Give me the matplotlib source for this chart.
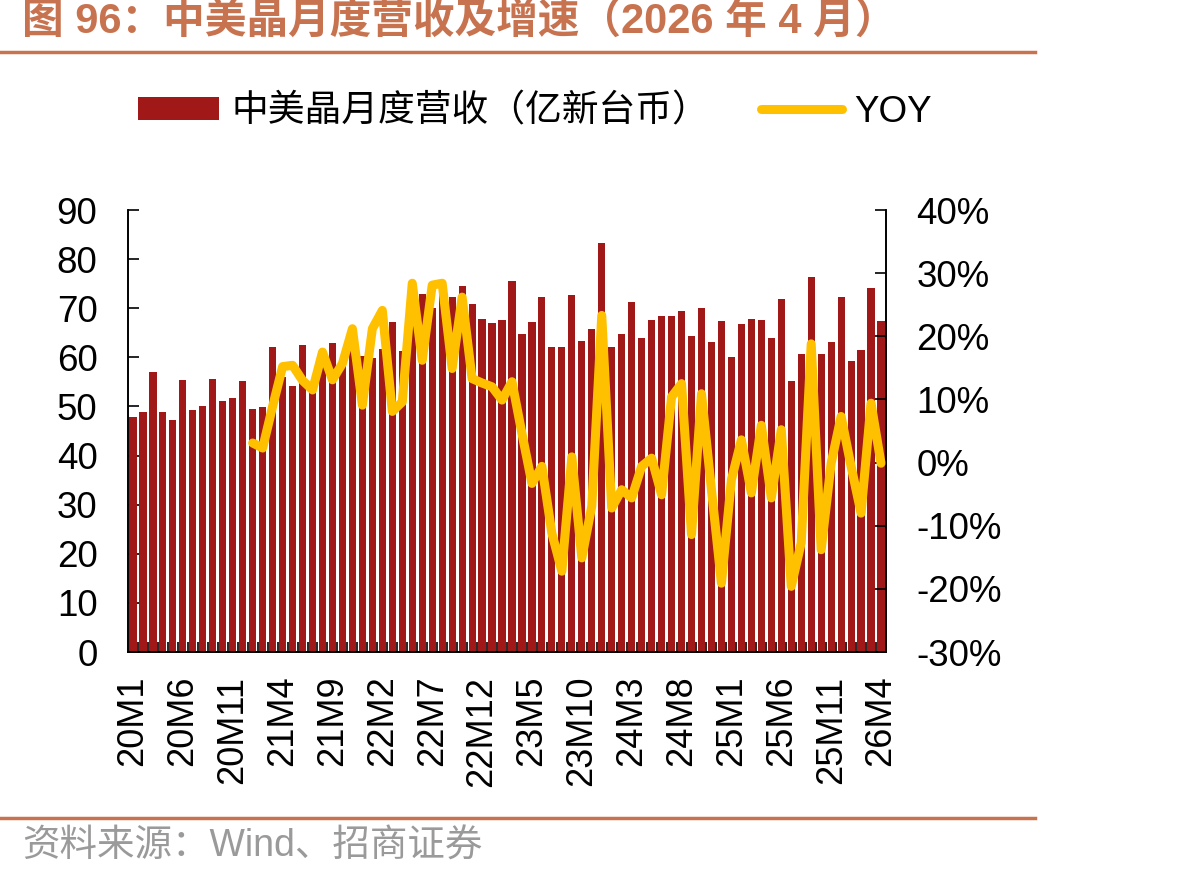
import numpy as np
import matplotlib
matplotlib.use("Agg")
import matplotlib.pyplot as plt
from matplotlib.lines import Line2D
from matplotlib.patches import Patch

plt.rcParams['font.family'] = ['Liberation Sans', 'Noto Sans CJK SC', 'DejaVu Sans']

# monthly revenue, 20M1 .. 26M4 (亿新台币)
revenue = [47.9, 48.8, 57.0, 48.8, 47.2, 55.4, 49.3, 50.1, 55.6, 51.2, 51.8, 55.2,
           49.5, 49.9, 62.1, 56.0, 54.2, 62.5, 55.0, 58.9, 62.9, 59.2, 62.8, 60.2,
           59.9, 61.7, 67.2, 61.3, 69.6, 72.9, 70.1, 75.6, 72.3, 74.5, 70.8, 67.9,
           67.0, 67.7, 75.5, 64.8, 67.2, 72.3, 62.1, 62.1, 72.7, 63.3, 65.8, 83.2,
           62.1, 64.8, 71.2, 64.0, 67.7, 68.4, 68.4, 69.4, 64.3, 70.0, 63.1, 67.4,
           60.1, 66.8, 67.9, 67.7, 64.0, 71.9, 55.2, 60.6, 76.3, 60.6, 63.1, 72.3,
           59.3, 61.5, 74.1, 67.4]

# YOY (%), starts 21M1
yoy = [3.1, 2.3, 8.9, 15.2, 15.4, 13.0, 11.5, 17.5, 13.1, 15.7, 21.2, 9.1,
       21.2, 24.1, 8.1, 9.6, 28.4, 16.2, 28.1, 28.4, 14.9, 26.2, 13.3, 12.6,
       12.0, 9.9, 12.8, 4.6, -3.3, -0.6, -11.2, -17.2, 0.9, -15.1, -6.9, 23.3,
       -7.2, -4.3, -5.6, -0.6, 0.7, -5.1, 10.4, 12.5, -11.4, 10.9, -4.3, -19.1,
       -2.7, 3.6, -4.8, 5.9, -5.6, 5.2, -19.6, -12.7, 18.8, -13.8, -0.1, 7.3,
       -0.6, -8.0, 9.4, -0.1]

tick_labels = ['20M1', '20M6', '20M11', '21M4', '21M9', '22M2', '22M7', '22M12',
               '23M5', '23M10', '24M3', '24M8', '25M1', '25M6', '25M11', '26M4']

title = '图 96：中美晶月度营收及增速（2026 年 4 月）'
bar_name = '中美晶月度营收（亿新台币）'
line_name = 'YOY'
source = '资料来源：Wind、招商证券'

bar_color = '#A01818'
line_color = '#FFC000'
accent = '#C8734F'

n = len(revenue)
x = np.arange(n)
x_yoy = np.arange(n - len(yoy), n)

fig = plt.figure(figsize=(11.8, 8.8), dpi=100)
ax = fig.add_axes([128 / 1180, 1 - 652 / 880, (886 - 128) / 1180, (652 - 210) / 880])
ax2 = ax.twinx()

ax.bar(x, revenue, width=0.72, color=bar_color, zorder=2)
ax2.plot(x_yoy, yoy, color=line_color, lw=6.5, solid_joinstyle='round',
         solid_capstyle='round', zorder=3)

ax.set_xlim(-0.5, n - 0.5)
ax.set_ylim(0, 90)
ax.set_yticks(np.arange(0, 91, 10))
ax2.set_ylim(-30, 40)
ax2.set_yticks(np.arange(-30, 41, 10))
ax2.set_yticklabels([f'{v}%' for v in range(-30, 41, 10)])

ax.set_xticks(np.arange(0, n, 5))
ax.set_xticklabels(tick_labels, rotation=90, fontsize=26)
ax.set_xticks(np.arange(0.5, n - 1, 1), minor=True)
ax.tick_params(axis='x', which='major', length=0, pad=17)
ax.tick_params(axis='x', which='minor', direction='in', length=7, width=1.2)
ax.tick_params(axis='y', direction='in', length=8, width=1.2, labelsize=26.5, pad=22)
ax2.tick_params(axis='y', direction='in', length=8, width=1.2, labelsize=26.5, pad=22)

for a in (ax, ax2):
    a.spines['top'].set_visible(False)
    for s in ('left', 'right', 'bottom'):
        a.spines[s].set_linewidth(1.2)
ax.set_zorder(ax2.get_zorder() - 1)
ax2.patch.set_visible(False)
ax.set_facecolor('none')

handles = [Patch(facecolor=bar_color, edgecolor='none'),
           Line2D([0], [0], color=line_color, lw=6.5, solid_capstyle='round')]
fig.legend(handles, [bar_name, line_name], loc='center', ncol=2, frameon=False,
           bbox_to_anchor=(535 / 1180, 1 - 112 / 880), fontsize=26.5,
           handlelength=2.2, handleheight=0.6, handletextpad=0.35, columnspacing=1.4)

fig.text(22 / 1180, 1 - 23 / 880, title, fontsize=30, fontweight='bold',
         color=accent, va='center', ha='left')
fig.add_artist(Line2D([0, 1035 / 1180], [1 - 52 / 880] * 2, color=accent, lw=2.5))
fig.add_artist(Line2D([0, 1035 / 1180], [1 - 818 / 880] * 2, color=accent, lw=2.5))
fig.text(22 / 1180, 1 - 847 / 880, source, fontsize=27, color='#9A9A9A',
         va='center', ha='left')

fig.savefig('out.png', dpi=100)
